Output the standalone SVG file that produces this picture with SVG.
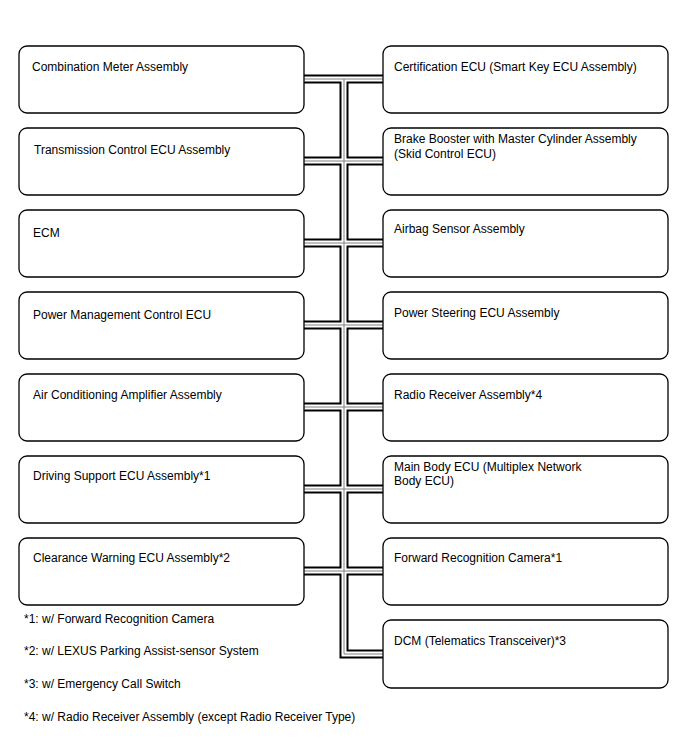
<svg xmlns="http://www.w3.org/2000/svg" width="688" height="755" viewBox="0 0 688 755">
<style>
.box{fill:#fff;stroke:#000;stroke-width:1.3}
text{font-family:"Liberation Sans",Arial,sans-serif;font-size:12px;fill:#000}
.b1{fill:none;stroke:#000;stroke-width:9;stroke-linejoin:miter}
.b2{fill:none;stroke:#fff;stroke-width:5;stroke-linejoin:miter}
.b3{fill:none;stroke:#808080;stroke-width:1;stroke-linejoin:miter}
</style>
<defs>
<path id="bus" d="M304,79H383 M344,79V654H383 M304,161H383 M304,243H383 M304,325H383 M304,407H383 M304,489H383 M304,571H383"/>
</defs>
<rect width="688" height="755" fill="#fff"/>
<g id="connectors">
<use href="#bus" class="b1"/>
<use href="#bus" class="b2"/>
<use href="#bus" class="b3"/>
</g>
<g id="n1"><rect class="box" x="19" y="46" width="285" height="67" rx="8"/><text x="32" y="71">Combination Meter Assembly</text></g>
<g id="n2"><rect class="box" x="19" y="128" width="285" height="67" rx="8"/><text x="34" y="154">Transmission Control ECU Assembly</text></g>
<g id="n3"><rect class="box" x="19" y="210" width="285" height="67" rx="8"/><text x="33" y="237">ECM</text></g>
<g id="n4"><rect class="box" x="19" y="292" width="285" height="67" rx="8"/><text x="33" y="319">Power Management Control ECU</text></g>
<g id="n5"><rect class="box" x="19" y="374" width="285" height="67" rx="8"/><text x="33" y="399">Air Conditioning Amplifier Assembly</text></g>
<g id="n6"><rect class="box" x="19" y="456" width="285" height="67" rx="8"/><text x="33" y="480">Driving Support ECU Assembly*1</text></g>
<g id="n7"><rect class="box" x="19" y="538" width="285" height="67" rx="8"/><text x="33" y="562">Clearance Warning ECU Assembly*2</text></g>
<g id="n8"><rect class="box" x="383" y="46" width="285" height="67" rx="8"/><text x="394" y="71">Certification ECU (Smart Key ECU Assembly)</text></g>
<g id="n9"><rect class="box" x="383" y="128" width="285" height="67" rx="8"/><text x="394" y="143">Brake Booster with Master Cylinder Assembly</text><text x="394" y="158">(Skid Control ECU)</text></g>
<g id="n10"><rect class="box" x="383" y="210" width="285" height="67" rx="8"/><text x="394" y="233">Airbag Sensor Assembly</text></g>
<g id="n11"><rect class="box" x="383" y="292" width="285" height="67" rx="8"/><text x="394" y="317">Power Steering ECU Assembly</text></g>
<g id="n12"><rect class="box" x="383" y="374" width="285" height="67" rx="8"/><text x="394" y="399">Radio Receiver Assembly*4</text></g>
<g id="n13"><rect class="box" x="383" y="456" width="285" height="67" rx="8"/><text x="394" y="471">Main Body ECU (Multiplex Network</text><text x="394" y="485">Body ECU)</text></g>
<g id="n14"><rect class="box" x="383" y="538" width="285" height="67" rx="8"/><text x="394" y="562">Forward Recognition Camera*1</text></g>
<g id="n15"><rect class="box" x="383" y="620" width="285" height="68" rx="8"/><text x="394" y="645">DCM (Telematics Transceiver)*3</text></g>
<g id="notes">
<text x="24" y="623">*1: w/ Forward Recognition Camera</text>
<text x="24" y="655">*2: w/ LEXUS Parking Assist-sensor System</text>
<text x="24" y="688">*3: w/ Emergency Call Switch</text>
<text x="24" y="721">*4: w/ Radio Receiver Assembly (except Radio Receiver Type)</text>
</g>
</svg>
